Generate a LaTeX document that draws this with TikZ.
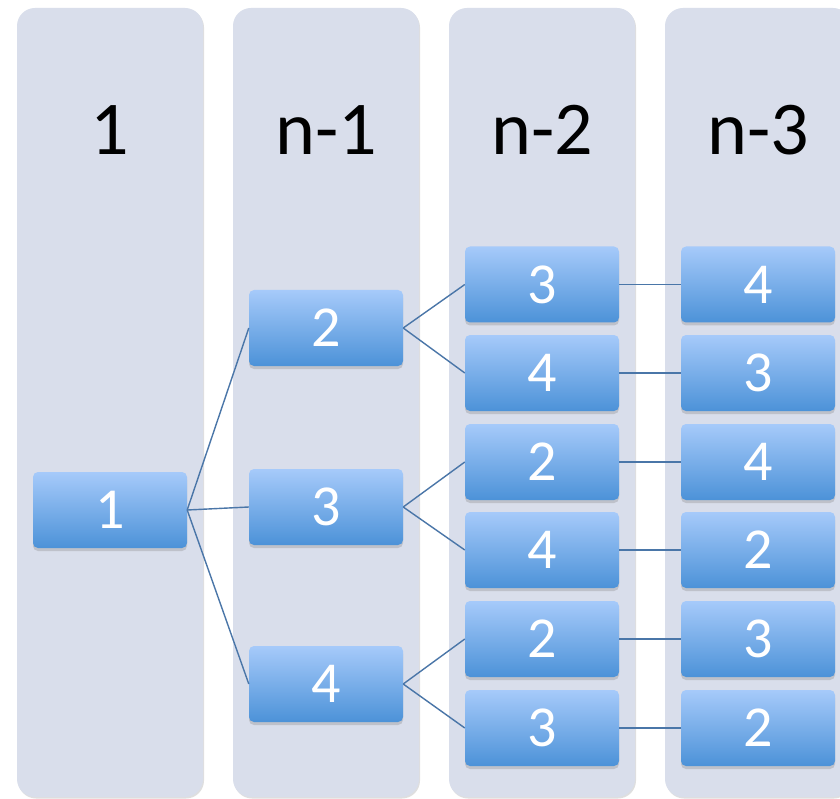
\documentclass[tikz,border=0pt]{standalone}
\usepackage{fontspec}
\setmainfont{Carlito}
\usetikzlibrary{shadows}
\definecolor{colfill}{HTML}{D9DEEB}
\definecolor{boxtop}{HTML}{A6CAFA}
\definecolor{boxbot}{HTML}{4C92D8}
\definecolor{linkc}{HTML}{4A76A8}
\tikzset{
  column/.style={fill=colfill, rounded corners=18pt, draw=none,
    drop shadow={opacity=0.25, shadow xshift=1pt, shadow yshift=-1.5pt}},
  coltitle/.style={font=\fontsize{76}{76}\selectfont, text=black, anchor=center},
  nbox/.style={rounded corners=5pt, top color=boxtop, bottom color=boxbot,
    minimum width=154pt, minimum height=76pt, inner sep=0pt, text=white,
    font=\fontsize{58}{58}\selectfont,
    drop shadow={opacity=0.3, shadow xshift=0pt, shadow yshift=-3pt}},
  link/.style={draw=linkc, line width=1.4pt}
}
\begin{document}
\begin{tikzpicture}[x=1pt,y=-1pt]
\useasboundingbox (0,0) rectangle (840,799);
\fill[white] (0,0) rectangle (840,799);
% columns
\path[column] (17,8) rectangle (203,797);
\path[column] (233,8) rectangle (419,797);
\path[column] (449,8) rectangle (635,797);
\path[column] (665,8) rectangle (851,797);
% titles
\node[coltitle] (t1) at (110,130) {1};
\node[coltitle] (t2) at (326,130) {n-1};
\node[coltitle] (t3) at (542,130) {n-2};
\node[coltitle] (t4) at (758,130) {n-3};
% level 1
\node[nbox] (a) at (110,510) {1};
% level 2
\node[nbox] (b2) at (326,328) {2};
\node[nbox] (b3) at (326,507) {3};
\node[nbox] (b4) at (326,684) {4};
% level 3
\node[nbox] (c1) at (542,284.5) {3};
\node[nbox] (c2) at (542,373) {4};
\node[nbox] (c3) at (542,462) {2};
\node[nbox] (c4) at (542,550) {4};
\node[nbox] (c5) at (542,639) {2};
\node[nbox] (c6) at (542,728) {3};
% level 4
\node[nbox] (d1) at (758,284.5) {4};
\node[nbox] (d2) at (758,373) {3};
\node[nbox] (d3) at (758,462) {4};
\node[nbox] (d4) at (758,550) {2};
\node[nbox] (d5) at (758,639) {3};
\node[nbox] (d6) at (758,728) {2};
% links
\draw[link] (a.east) -- (b2.west);
\draw[link] (a.east) -- (b3.west);
\draw[link] (a.east) -- (b4.west);
\draw[link] (b2.east) -- (c1.west);
\draw[link] (b2.east) -- (c2.west);
\draw[link] (b3.east) -- (c3.west);
\draw[link] (b3.east) -- (c4.west);
\draw[link] (b4.east) -- (c5.west);
\draw[link] (b4.east) -- (c6.west);
\draw[link] (c1.east) -- (d1.west);
\draw[link] (c2.east) -- (d2.west);
\draw[link] (c3.east) -- (d3.west);
\draw[link] (c4.east) -- (d4.west);
\draw[link] (c5.east) -- (d5.west);
\draw[link] (c6.east) -- (d6.west);
\end{tikzpicture}
\end{document}
